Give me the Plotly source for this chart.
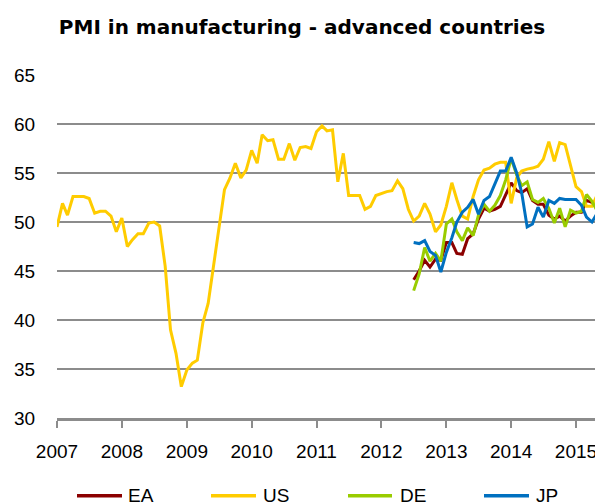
import pandas as pd
import plotly.graph_objects as go

# ---------------- data (monthly, Jan 2007 - May 2015) ----------------
months = pd.date_range("2007-01-01", "2015-05-01", freq="MS")
year_ticks = ["2007", "2008", "2009", "2010", "2011", "2012", "2013", "2014", "2015"]

us = [49.5, 51.9, 50.7, 52.6, 52.6, 52.6, 52.4, 50.9, 51.1, 51.1, 50.6, 49.0,
      50.4, 47.5, 48.2, 48.8, 48.8, 49.9, 50.0, 49.6, 45.5, 39.0, 36.6, 33.2,
      34.9, 35.6, 35.9, 39.7, 41.7, 45.5, 49.6, 53.3, 54.5, 56.0, 54.5, 55.3,
      57.3, 56.0, 58.9, 58.3, 58.4, 56.4, 56.4, 58.0, 56.3, 57.6, 57.7, 57.5,
      59.2, 59.8, 59.3, 59.4, 54.1, 57.0, 52.7, 52.7, 52.7, 51.3, 51.6, 52.7,
      52.9, 53.1, 53.2, 54.2, 53.4, 51.3, 50.1, 50.6, 51.9, 50.8, 49.0, 49.7,
      51.6, 54.0, 52.3, 50.6, 50.3, 52.6, 54.3, 55.3, 55.5, 55.9, 56.1, 56.1,
      51.9, 54.5, 55.2, 55.4, 55.5, 55.7, 56.4, 58.2, 56.2, 58.1, 57.9, 55.7,
      53.6, 53.1, 51.6, 51.6, 52.8]

# EA, DE, JP start in July 2012 (66 missing months before)
pad = [None] * 66
ea = pad + [44.1, 45.0, 46.1, 45.4, 46.2, 46.1,
            47.9, 47.9, 46.8, 46.7, 48.3, 48.8, 50.3, 51.4, 51.1, 51.3, 51.6, 52.7,
            54.0, 53.2, 53.0, 53.4, 52.2, 51.8, 51.8, 50.7, 50.3, 50.6, 50.1, 50.6,
            51.0, 51.0, 52.2, 52.0, 52.2]
de = pad + [43.0, 44.7, 47.4, 46.0, 46.8, 46.0,
            49.8, 50.3, 49.0, 48.1, 49.4, 48.6, 50.7, 51.8, 51.1, 51.7, 52.7, 54.3,
            56.5, 54.8, 53.7, 54.1, 52.3, 52.0, 52.4, 51.4, 49.9, 51.4, 49.5, 51.2,
            50.9, 51.1, 52.8, 52.1, 51.1]
jp = pad + [47.9, 47.8, 48.1, 47.0, 46.6, 44.9,
            46.9, 48.4, 50.0, 51.0, 51.5, 52.3, 50.8, 52.2, 52.6, 53.8, 55.2, 55.2,
            56.6, 55.0, 53.0, 49.5, 49.8, 51.5, 50.5, 52.2, 51.9, 52.4, 52.3, 52.3,
            52.3, 51.7, 50.5, 50.0, 50.9]

series_names = ["EA", "US", "DE", "JP"]
series_values = [ea, us, de, jp]
series_colors = ["#8B0000", "#FFCC00", "#99CC00", "#0070C0"]

# ---------------- figure ----------------
# the page body has an 8px margin, so the figure is laid out in page px - 8
OFF = 8
W, H = 603 - OFF, 504 - OFF
L, R, T, B = 57 - OFF, 0, 75 - OFF, H - (418 - OFF)
FONT = "Liberation Sans, Arial, sans-serif"
GRID = "#8C8C8C"

fig = go.Figure()
for name, vals, col in zip(series_names, series_values, series_colors):
    fig.add_trace(go.Scatter(x=months, y=vals, name=name, mode="lines",
                             line=dict(color=col, width=3), showlegend=False,
                             connectgaps=False))

# manual legend (line samples + labels), positioned in page pixels
pw, ph = W - L - R, H - T - B
def px(xp):
    return (xp - OFF - L) / pw
def py(yp):
    return (H - B - (yp - OFF)) / ph

legend_line_x = [(77, 122), (211, 256), (348, 392), (484, 529)]
legend_text_x = [126, 261, 398, 534]
leg_y = 495.7
for name, col, (x0, x1), tx in zip(series_names, series_colors, legend_line_x, legend_text_x):
    fig.add_shape(type="line", xref="paper", yref="paper",
                  x0=px(x0), x1=px(x1), y0=py(leg_y), y1=py(leg_y),
                  line=dict(color=col, width=3.5))
    fig.add_annotation(xref="paper", yref="paper", x=px(tx), y=py(leg_y),
                       text=name, showarrow=False, xanchor="left", yanchor="middle",
                       font=dict(family=FONT, size=19, color="#000000"))

fig.update_layout(
    width=W, height=H,
    margin=dict(l=L, r=R, t=T, b=B, pad=0),
    paper_bgcolor="white", plot_bgcolor="white",
    title=dict(text="<b>PMI in manufacturing - advanced countries</b>",
               x=(302 - OFF) / W, xref="container", xanchor="center",
               y=1 - (27 - OFF) / H, yref="container", yanchor="middle",
               font=dict(family="DejaVu Sans, sans-serif", size=20, color="#000000")),
    showlegend=False,
    font=dict(family=FONT, size=19, color="#000000"),
)

fig.update_xaxes(
    type="date",
    range=["2007-01-01", "2015-06-02"],
    tickvals=[f"{y}-01-01" for y in year_ticks],
    ticktext=year_ticks,
    ticks="outside", ticklen=7, tickwidth=2, tickcolor=GRID,
    ticklabelstandoff=7,
    showline=True, linecolor=GRID, linewidth=3,
    showgrid=False, zeroline=False,
    tickfont=dict(family=FONT, size=19, color="#000000"),
)
fig.update_yaxes(
    range=[30, 65],
    tickvals=[30, 35, 40, 45, 50, 55, 60, 65],
    ticks="outside", ticklen=17, tickcolor="rgba(0,0,0,0)",
    showline=False, zeroline=False,
    showgrid=True, gridcolor=GRID, gridwidth=2,
    tickfont=dict(family=FONT, size=19, color="#000000"),
)

fig.write_html("out.html")
